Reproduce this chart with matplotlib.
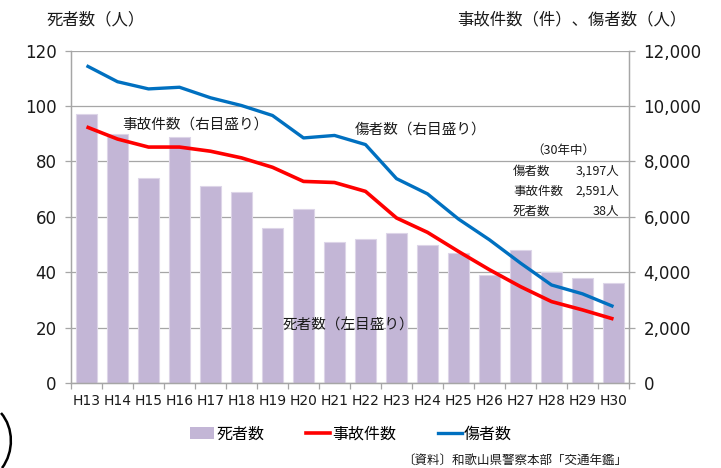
import numpy as np
import matplotlib
matplotlib.use("Agg")
import matplotlib.pyplot as plt
from matplotlib.ticker import FuncFormatter, FixedLocator
from matplotlib.patches import PathPatch
from matplotlib.path import Path
from matplotlib.lines import Line2D
from matplotlib.patches import Patch

JP = ["Noto Sans CJK JP", "DejaVu Sans"]
NUM = ["DejaVu Sans"]
NARROW = ["Liberation Sans Narrow", "DejaVu Sans"]

# data
years = ["H13", "H14", "H15", "H16", "H17", "H18", "H19", "H20", "H21",
         "H22", "H23", "H24", "H25", "H26", "H27", "H28", "H29", "H30"]
deaths = [97, 90, 74, 89, 71, 69, 56, 63, 51, 52, 54, 50, 47, 39, 48, 40, 38, 36]
accidents = [9250, 8810, 8520, 8520, 8370, 8130, 7790, 7280, 7240,
             6920, 5960, 5440, 4750, 4090, 3480, 2940, 2640, 2310]
injured = [11460, 10880, 10620, 10680, 10300, 10020, 9660, 8850, 8940,
           8610, 7380, 6830, 5920, 5170, 4330, 3540, 3220, 2760]
summary_labels = ["傷者数", "事故件数", "死者数"]
summary_values = ["3,197人", "2,591人", "38人"]

BAR = "#c3b6d6"
GRID = "#a6a6a6"
RED = "#ff0000"
BLUE = "#0070c0"

fig = plt.figure(figsize=(7.21, 4.68), dpi=100)
ax = fig.add_axes([71 / 721, 1 - 383 / 468, 558 / 721, (383 - 50.7) / 468])
ax2 = ax.twinx()

x = np.arange(len(years))
ax.bar(x, deaths, width=0.68, color=BAR, edgecolor="#ddd5e8", linewidth=0.8, zorder=2)
ax2.plot(x, accidents, color=RED, lw=2.6, solid_capstyle="butt", zorder=3)
ax2.plot(x, injured, color=BLUE, lw=2.4, solid_capstyle="butt", zorder=3)

ax.set_xlim(-0.5, len(years) - 0.5)
ax.set_ylim(0, 120)
ax2.set_ylim(0, 12000)
ax.set_yticks(range(0, 121, 20))
ax2.set_yticks(range(0, 12001, 2000))
ax2.yaxis.set_major_formatter(FuncFormatter(lambda v, p: f"{int(v):,}"))

ax.yaxis.grid(True, color=GRID, lw=0.9, zorder=0)
ax.set_axisbelow(True)

for a in (ax, ax2):
    a.spines["top"].set_visible(False)
    for s in ("left", "right", "bottom"):
        a.spines[s].set_color(GRID)
        a.spines[s].set_linewidth(0.9)
    a.tick_params(axis="y", direction="out", length=4.5, width=0.9, color=GRID,
                  labelsize=12, pad=6)
for lab in ax.get_yticklabels() + ax2.get_yticklabels():
    lab.set_family(NUM)
    lab.set_color("#1a1a1a")

ax.set_xticks(x)
ax.set_xticklabels(years, fontsize=10, family=NARROW, color="#1a1a1a")
ax.tick_params(axis="x", which="major", length=0, pad=8)
ax.xaxis.set_minor_locator(FixedLocator(np.arange(-0.5, len(years), 1.0)))
ax.tick_params(axis="x", which="minor", direction="out", length=4, width=0.9, color=GRID)

# axis titles
fig.text(47 / 721, 1 - 20 / 468, "死者数（人）", family=JP, fontsize=11.8,
         ha="left", va="center", color="#1a1a1a")
fig.text(686 / 721, 1 - 20 / 468, "事故件数（件）、傷者数（人）", family=JP, fontsize=11.8,
         ha="right", va="center", color="#1a1a1a")

# in-plot notes
fig.text(122 / 721, 1 - 125 / 468, "事故件数（右目盛り）", family=JP, fontsize=10.5,
         ha="left", va="center", color="#1a1a1a")
fig.text(355 / 721, 1 - 130 / 468, "傷者数（右目盛り）", family=JP, fontsize=10.5,
         ha="left", va="center", color="#1a1a1a")
fig.text(283 / 721, 1 - 326 / 468, "死者数（左目盛り）", family=JP, fontsize=10.5,
         ha="left", va="center", color="#1a1a1a")

fig.text(563 / 721, 1 - 150 / 468, "（30年中）", family=JP, fontsize=9,
         ha="center", va="center", color="#1a1a1a")
for i, (lab, val) in enumerate(zip(summary_labels, summary_values)):
    yy = 1 - (171 + 20 * i) / 468
    fig.text(513 / 721, yy, lab, family=JP, fontsize=9, ha="left", va="center",
             color="#1a1a1a")
    fig.text(619 / 721, yy, val, family=JP, fontsize=9, ha="right", va="center",
             color="#1a1a1a")

# legend
handles = [Patch(facecolor=BAR, edgecolor="none"),
           Line2D([], [], color=RED, lw=2.6),
           Line2D([], [], color=BLUE, lw=2.4)]
leg = fig.legend(handles, ["死者数", "事故件数", "傷者数"], loc="center",
                 bbox_to_anchor=(351 / 721, 1 - 434 / 468), ncol=3, frameon=False,
                 prop={"family": JP, "size": 11.5}, handlelength=1.5,
                 handleheight=0.7, handletextpad=0.15, columnspacing=2.6)

fig.text(627 / 721, 1 - 460 / 468, "〔資料〕和歌山県警察本部「交通年鑑」", family=JP,
         fontsize=9, ha="right", va="center", color="#1a1a1a")

# stray pen stroke at the lower left edge of the scan
verts = [(1, 413), (14, 428), (14, 452), (2, 468)]
verts = [(vx / 721, 1 - vy / 468) for vx, vy in verts]
stroke = PathPatch(Path(verts, [Path.MOVETO, Path.CURVE4, Path.CURVE4, Path.CURVE4]),
                   transform=fig.transFigure, facecolor="none", edgecolor="black", lw=1.8)
fig.patches.append(stroke)

fig.savefig("out.png", dpi=100)
